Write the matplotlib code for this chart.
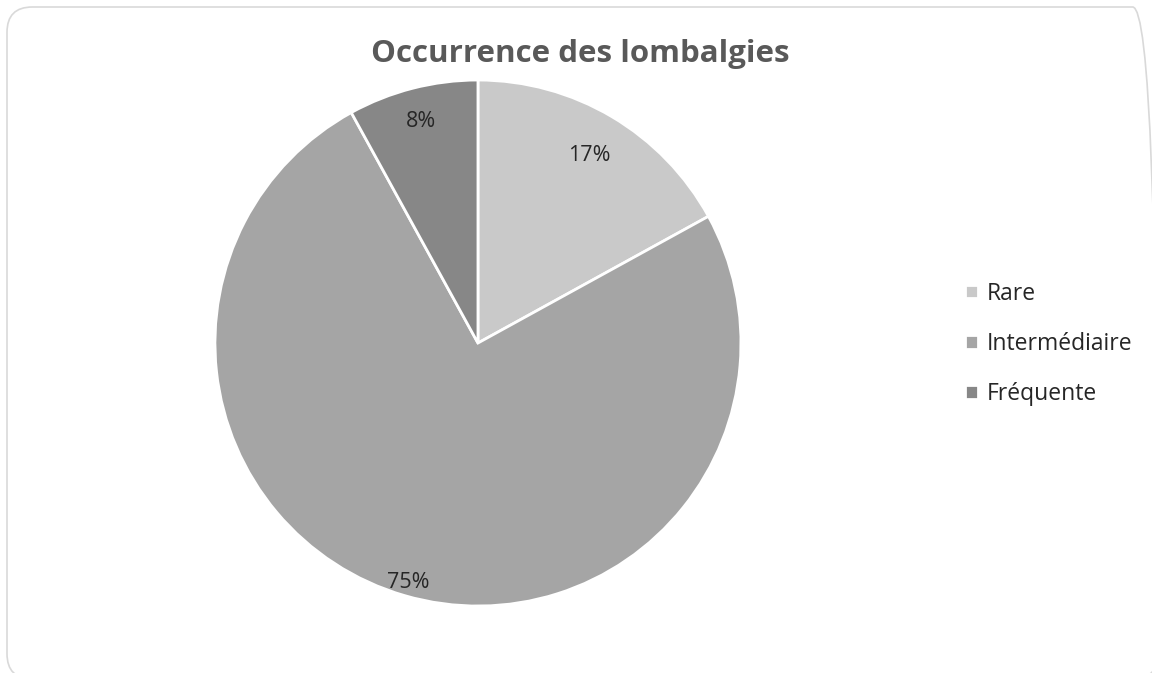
import numpy as np
import matplotlib
matplotlib.use("Agg")
import matplotlib.pyplot as plt
from matplotlib.patches import FancyBboxPatch

categories = ["Rare", "Intermédiaire", "Fréquente"]
values = [17, 75, 8]
colors = ["#C9C9C9", "#A5A5A5", "#878787"]
label_dist = [0.83, 0.95, 0.87]

plt.rcParams['font.family'] = ['Open Sans', 'DejaVu Sans']

fig = plt.figure(figsize=(11.52, 6.73), dpi=100)
fig.patch.set_facecolor("white")

border = FancyBboxPatch((7/1152, 0.0 - 6/673), (1152 - 7 + 6)/1152, (673 - 7 + 6)/673 - 0.0,
                        boxstyle="round,pad=0,rounding_size=0.022",
                        transform=fig.transFigure, facecolor="none",
                        edgecolor="#D9D9D9", linewidth=1.2, mutation_aspect=1152/673,
                        zorder=-1)
fig.patches.append(border)

ax = fig.add_axes([0.1866, 0.0995, 0.4566, 0.7816])
wedges, _ = ax.pie(values, colors=colors, startangle=90, counterclock=False,
                   wedgeprops=dict(edgecolor="white", linewidth=2.0), radius=1.0)
for w, v, d in zip(wedges, values, label_dist):
    ang = np.deg2rad((w.theta1 + w.theta2) / 2)
    ax.text(d * np.cos(ang), d * np.sin(ang), f"{v}%", ha="center", va="center",
            fontsize=15.5, color="#262626")
ax.set_xlim(-1, 1)
ax.set_ylim(-1, 1)
ax.set_aspect("equal")

fig.text(580/1152, 1 - 54/673, "Occurrence des lombalgies", ha="center", va="center",
         fontsize=22.5, fontweight="bold", color="#595959")

leg = fig.legend(wedges, categories, loc="center left", bbox_to_anchor=(965/1152, 1 - 344/673),
                 frameon=False, fontsize=16.5, handlelength=0.55, handleheight=0.55,
                 labelspacing=1.15, handletextpad=0.4, borderpad=0, borderaxespad=0)
for t in leg.get_texts():
    t.set_color("#262626")

fig.savefig("out.png", dpi=100, facecolor="white")
